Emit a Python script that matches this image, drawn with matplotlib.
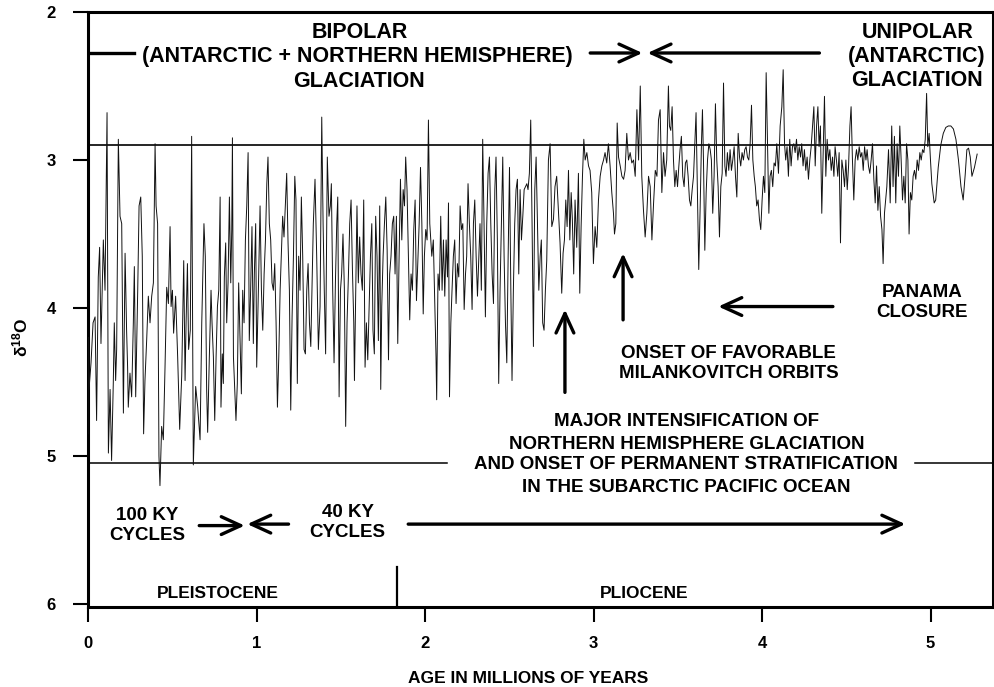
import matplotlib
matplotlib.use('Agg')
import matplotlib.pyplot as plt

plt.rcParams['font.family'] = ['Liberation Sans', 'DejaVu Sans']
plt.rcParams['font.weight'] = 'bold'
plt.rcParams['mathtext.fontset'] = 'custom'
plt.rcParams['mathtext.rm'] = 'Liberation Sans:bold'
plt.rcParams['mathtext.default'] = 'rm'

# ---------------- data (age in Ma, delta 18O) ----------------
ages_a = [0.000, 0.003, 0.006, 0.018, 0.030, 0.042, 0.051, 0.061, 0.069, 0.077, 0.091, 0.101, 0.107, 0.113,
          0.121, 0.131, 0.140, 0.150, 0.156, 0.164, 0.170, 0.180, 0.190, 0.200, 0.210, 0.220, 0.229, 0.235,
          0.239, 0.249, 0.259, 0.269, 0.275, 0.283, 0.295, 0.303, 0.313, 0.322, 0.330, 0.338, 0.348, 0.358,
          0.368, 0.378, 0.388, 0.398, 0.404, 0.413, 0.421, 0.427, 0.437, 0.447, 0.457, 0.467, 0.477, 0.487,
          0.493, 0.501, 0.508, 0.520, 0.532, 0.544, 0.556, 0.568, 0.576, 0.582, 0.590, 0.597, 0.607, 0.615,
          0.625, 0.639, 0.651, 0.665]
d18o_a = [4.85, 4.20, 4.55, 4.37, 4.10, 4.06, 4.76, 3.79, 3.59, 4.24, 3.54, 3.88, 3.27, 2.68,
          4.98, 4.55, 5.03, 4.51, 4.10, 4.49, 4.28, 2.86, 3.38, 3.43, 4.71, 3.63, 4.15, 4.40,
          4.67, 4.44, 4.60, 4.10, 3.72, 4.60, 3.88, 3.31, 3.25, 3.65, 4.85, 4.49, 4.22, 3.92,
          4.10, 3.92, 3.83, 2.89, 3.31, 3.43, 5.00, 5.20, 4.80, 4.89, 4.40, 3.86, 3.97, 3.45,
          3.99, 3.88, 4.17, 3.92, 4.33, 4.82, 4.46, 3.68, 4.49, 4.10, 3.70, 4.28, 4.15, 2.84,
          5.06, 4.53, 4.67, 4.89]

ages_b = [0.675, 0.688, 0.696, 0.704, 0.710, 0.720, 0.730, 0.736, 0.744, 0.752,
          0.760, 0.768, 0.776, 0.784, 0.789, 0.797, 0.803, 0.809, 0.817, 0.823,
          0.831, 0.839, 0.847, 0.853, 0.857, 0.863, 0.871, 0.878, 0.886, 0.894,
          0.902, 0.910, 0.918, 0.926, 0.934, 0.942, 0.950, 0.957, 0.965, 0.973,
          0.981, 0.987, 0.995, 1.001, 1.011, 1.021, 1.029, 1.037, 1.045, 1.053,
          1.061, 1.068, 1.076, 1.084, 1.092, 1.100, 1.108, 1.116, 1.124, 1.132,
          1.140, 1.147, 1.155, 1.163, 1.171, 1.179, 1.187, 1.195, 1.203, 1.211,
          1.219, 1.227, 1.234, 1.242, 1.250, 1.258, 1.266, 1.274, 1.282, 1.290,
          1.298, 1.306, 1.314, 1.322, 1.329, 1.337, 1.347]
d18o_b = [4.10, 3.43, 3.65, 4.55, 4.84, 4.33, 3.88, 4.10, 4.33, 4.76,
          4.33, 3.99, 3.88, 3.25, 4.67, 4.31, 4.51, 3.79, 3.56, 4.10,
          3.83, 3.25, 3.83, 3.47, 2.85, 4.33, 4.55, 4.76, 4.51, 3.83,
          4.22, 4.58, 3.88, 4.10, 3.54, 3.31, 2.95, 4.22, 3.88, 3.45,
          4.24, 3.77, 3.43, 4.40, 3.88, 3.31, 3.88, 4.15, 3.77, 3.54,
          3.16, 2.98, 3.43, 3.54, 3.83, 3.88, 3.70, 4.10, 4.67, 4.33,
          3.88, 3.65, 3.38, 3.52, 3.31, 3.09, 3.56, 3.88, 4.69, 4.06,
          3.65, 3.11, 3.27, 4.51, 3.65, 3.88, 3.25, 3.65, 4.28, 4.31,
          3.88, 3.70, 4.10, 4.26, 3.88, 3.43, 3.13]

ages_c = [1.357, 1.367, 1.377, 1.387, 1.395, 1.402, 1.410, 1.420, 1.430, 1.438,
          1.444, 1.452, 1.460, 1.468, 1.476, 1.482, 1.490, 1.498, 1.505, 1.513,
          1.521, 1.529, 1.537, 1.545, 1.553, 1.561, 1.569, 1.577, 1.581, 1.589,
          1.596, 1.604, 1.612, 1.620, 1.628, 1.636, 1.644, 1.652, 1.660, 1.668,
          1.676, 1.684, 1.691, 1.699, 1.707, 1.715, 1.723, 1.731, 1.737, 1.743,
          1.751, 1.759, 1.767, 1.775, 1.783, 1.790, 1.798, 1.806, 1.814, 1.822,
          1.830, 1.838, 1.846, 1.854, 1.862, 1.870, 1.878, 1.885, 1.893, 1.901,
          1.909, 1.917, 1.925, 1.933, 1.941, 1.949, 1.957, 1.965, 1.973, 1.981,
          1.989, 1.996, 2.004, 2.012, 2.020, 2.028]
d18o_c = [3.65, 4.28, 3.99, 2.71, 3.43, 3.88, 4.31, 2.98, 3.38, 3.31,
          3.16, 3.88, 4.37, 3.83, 3.43, 3.25, 4.60, 3.88, 3.77, 3.50,
          3.86, 4.80, 4.10, 3.79, 3.43, 3.27, 3.74, 4.10, 4.49, 3.88,
          3.31, 3.83, 3.52, 3.77, 3.88, 3.27, 4.40, 4.10, 4.35, 3.99,
          3.65, 3.43, 4.15, 4.31, 3.38, 3.65, 4.22, 3.31, 4.55, 3.99,
          3.65, 3.43, 3.25, 3.61, 4.35, 3.77, 3.65, 3.43, 3.38, 3.77,
          3.38, 4.24, 3.65, 3.13, 3.54, 3.20, 3.31, 2.98, 3.20, 3.65,
          4.08, 3.77, 3.88, 3.47, 3.27, 3.95, 3.70, 3.43, 3.05, 3.43,
          4.04, 3.65, 3.47, 3.54, 2.73, 3.43]

ages_d = [2.040, 2.049, 2.057, 2.065, 2.069, 2.077, 2.085, 2.093, 2.101, 2.109,
          2.117, 2.125, 2.133, 2.139, 2.145, 2.153, 2.160, 2.168, 2.176, 2.184,
          2.192, 2.200, 2.208, 2.216, 2.224, 2.232, 2.240, 2.247, 2.255, 2.263,
          2.271, 2.279, 2.287, 2.295, 2.303, 2.311, 2.319, 2.326, 2.334, 2.342,
          2.350, 2.358, 2.366, 2.374, 2.382, 2.390, 2.398, 2.406, 2.414, 2.421,
          2.429, 2.437, 2.445, 2.453, 2.461, 2.469, 2.477, 2.485, 2.493, 2.501,
          2.509, 2.516, 2.524, 2.532, 2.540, 2.548, 2.556, 2.564, 2.572, 2.580,
          2.588, 2.596, 2.604, 2.611, 2.619, 2.627, 2.635, 2.643, 2.651, 2.659,
          2.667, 2.675, 2.683, 2.690, 2.698, 2.706, 2.714]
d18o_d = [3.65, 3.54, 3.92, 4.33, 4.62, 3.77, 3.88, 3.38, 3.88, 3.54,
          3.92, 3.54, 3.79, 3.29, 4.60, 4.10, 3.88, 3.65, 3.54, 3.97,
          3.70, 3.79, 3.31, 3.47, 3.43, 4.01, 3.77, 3.65, 3.16, 3.43,
          3.65, 4.01, 3.43, 3.27, 3.65, 3.92, 3.65, 3.43, 3.88, 2.86,
          3.43, 4.06, 3.43, 3.09, 2.98, 3.43, 3.77, 3.97, 3.20, 2.98,
          3.54, 4.51, 3.88, 3.43, 2.98, 3.65, 4.10, 4.37, 3.65, 3.05,
          3.88, 4.49, 3.88, 3.43, 3.20, 3.13, 3.77, 3.20, 3.54, 3.38,
          3.20, 3.18, 3.16, 3.20, 3.09, 2.73, 3.43, 4.26, 3.20, 2.98,
          3.43, 3.88, 3.65, 3.54, 4.10, 4.15, 3.88]

ages_e = [2.722, 2.732, 2.742, 2.752, 2.762, 2.771, 2.781, 2.791, 2.801, 2.811,
          2.819, 2.827, 2.835, 2.843, 2.851, 2.859, 2.867, 2.874, 2.882, 2.890,
          2.900, 2.910, 2.918, 2.926, 2.934, 2.942, 2.950, 2.960, 2.970, 2.979,
          2.989, 2.999, 3.009, 3.019, 3.029, 3.039, 3.049, 3.059, 3.068, 3.078,
          3.088, 3.098, 3.108, 3.118, 3.124, 3.132, 3.140, 3.148, 3.158, 3.168,
          3.178, 3.187, 3.197, 3.207, 3.217, 3.227, 3.237, 3.247, 3.257, 3.267,
          3.277, 3.286, 3.296, 3.306, 3.316, 3.326, 3.336, 3.346, 3.356, 3.366,
          3.376, 3.385, 3.395]
d18o_e = [3.68, 3.00, 2.89, 3.45, 3.40, 3.18, 3.11, 3.34, 3.56, 3.90,
          3.63, 3.54, 3.27, 3.45, 3.07, 3.54, 3.22, 3.40, 3.77, 3.27,
          3.59, 3.09, 3.90, 3.45, 3.11, 2.86, 3.00, 2.95, 3.04, 3.07,
          3.22, 3.70, 3.45, 3.59, 3.27, 3.11, 3.04, 3.00, 2.95, 3.02,
          2.89, 3.04, 3.22, 3.36, 3.50, 3.43, 2.75, 2.98, 3.04, 3.11,
          3.13, 3.07, 2.82, 3.00, 2.95, 3.02, 3.00, 3.11, 2.66, 3.00,
          2.50, 3.11, 3.34, 3.52, 3.36, 3.11, 3.18, 3.54, 3.29, 3.07,
          3.11, 2.73, 2.66]

ages_f = [3.405, 3.415, 3.424, 3.434, 3.444, 3.450, 3.458, 3.466, 3.474, 3.482,
          3.490, 3.498, 3.506, 3.513, 3.521, 3.529, 3.537, 3.545, 3.553, 3.561,
          3.569, 3.577, 3.585, 3.593, 3.600, 3.608, 3.616, 3.624, 3.632, 3.640,
          3.646, 3.652, 3.660, 3.668, 3.676, 3.684, 3.692, 3.699, 3.707, 3.715,
          3.723, 3.731, 3.739, 3.747, 3.755, 3.763, 3.771, 3.779, 3.786, 3.794,
          3.802, 3.810, 3.818, 3.826, 3.834, 3.842, 3.850, 3.858, 3.866, 3.873,
          3.881, 3.889, 3.897, 3.905, 3.913, 3.921, 3.929, 3.937, 3.945, 3.953,
          3.960, 3.968, 3.976, 3.984, 3.992, 4.000, 4.008, 4.016, 4.024, 4.032,
          4.040, 4.047, 4.055, 4.063, 4.071, 4.079]
d18o_f = [3.22, 2.95, 3.11, 3.00, 2.50, 2.77, 2.80, 2.64, 3.00, 3.18,
          3.07, 3.18, 3.04, 2.93, 2.84, 3.11, 3.18, 3.02, 3.00, 3.11,
          3.27, 3.31, 3.20, 3.11, 2.91, 2.68, 3.22, 3.74, 3.34, 2.89,
          2.66, 3.00, 3.61, 3.22, 3.00, 2.89, 2.93, 3.00, 3.36, 3.11,
          2.62, 3.00, 3.18, 3.52, 3.18, 3.09, 2.48, 3.04, 3.11, 2.95,
          3.07, 2.93, 3.07, 3.00, 2.91, 3.11, 3.25, 2.82, 2.98, 3.04,
          2.95, 3.00, 2.93, 2.91, 2.98, 3.00, 2.89, 2.63, 3.00, 3.11,
          3.18, 3.31, 3.27, 3.40, 3.47, 3.27, 3.11, 3.22, 2.41, 2.89,
          3.36, 3.11, 3.07, 3.18, 3.02, 3.04]

ages_g = [4.087, 4.097, 4.107, 4.117, 4.125, 4.133, 4.140, 4.148, 4.156, 4.164,
          4.172, 4.180, 4.188, 4.196, 4.204, 4.212, 4.220, 4.228, 4.235, 4.243,
          4.251, 4.259, 4.267, 4.275, 4.283, 4.291, 4.299, 4.307, 4.315, 4.323,
          4.331, 4.338, 4.346, 4.354, 4.362, 4.370, 4.378, 4.386, 4.394, 4.402,
          4.410, 4.418, 4.426, 4.433, 4.441, 4.449, 4.457, 4.465, 4.473, 4.481,
          4.489, 4.497, 4.505, 4.513, 4.521, 4.528, 4.536, 4.544, 4.552, 4.560,
          4.568, 4.576, 4.584, 4.592, 4.600, 4.608, 4.616, 4.623, 4.631, 4.639,
          4.647, 4.655, 4.663, 4.671, 4.679, 4.687, 4.695, 4.703, 4.711, 4.718,
          4.726]
d18o_g = [2.89, 3.09, 2.77, 2.64, 2.39, 2.89, 3.00, 2.91, 3.11, 2.86,
          3.04, 2.91, 2.89, 2.95, 2.86, 3.00, 2.91, 2.98, 2.89, 3.04,
          2.93, 3.07, 2.98, 3.13, 3.00, 2.91, 2.77, 2.64, 3.04, 2.77,
          2.64, 2.91, 2.77, 3.36, 2.95, 2.57, 3.11, 2.86, 3.00, 2.93,
          3.07, 2.98, 3.11, 2.91, 3.00, 3.11, 2.95, 3.56, 3.00, 3.07,
          3.18, 3.00, 3.20, 3.04, 2.77, 2.64, 3.00, 3.27, 3.00, 2.93,
          3.00, 2.91, 2.98, 2.95, 3.07, 2.91, 3.00, 2.93, 3.04, 3.09,
          3.00, 2.89, 3.13, 3.29, 3.04, 3.34, 3.18, 3.38, 3.47, 3.70,
          3.36]

ages_h = [4.740, 4.750, 4.760, 4.769, 4.777, 4.785, 4.793, 4.801, 4.809, 4.817,
          4.825, 4.833, 4.841, 4.849, 4.857, 4.865, 4.872, 4.880, 4.888, 4.896,
          4.904, 4.912, 4.920, 4.928, 4.936, 4.944, 4.952, 4.960, 4.968, 4.976,
          4.983, 4.991, 4.999, 5.007, 5.021, 5.030, 5.045, 5.060, 5.075, 5.090,
          5.105, 5.120, 5.135, 5.150, 5.165, 5.180, 5.193, 5.205, 5.215, 5.225,
          5.235, 5.245, 5.260, 5.276]
d18o_h = [3.18, 2.93, 3.29, 2.77, 3.18, 2.84, 3.29, 2.89, 3.11, 2.77,
          3.00, 3.27, 3.11, 3.29, 2.89, 3.00, 3.50, 3.22, 3.27, 3.11,
          3.07, 3.13, 3.00, 3.07, 2.95, 3.00, 2.93, 2.95, 2.86, 2.55,
          2.91, 2.82, 3.00, 3.16, 3.29, 3.27, 3.05, 2.90, 2.82, 2.78,
          2.77, 2.77, 2.79, 2.86, 3.00, 3.18, 3.27, 3.10, 2.93, 2.92,
          2.98, 3.11, 3.05, 2.96]

x_ticks = [0, 1, 2, 3, 4, 5]
y_ticks = [2, 3, 4, 5, 6]
ref_level_top = 2.90
ref_level_bottom = 5.045
epoch_boundary = 1.834

ages = ages_a + ages_b + ages_c + ages_d + ages_e + ages_f + ages_g + ages_h
d18o = d18o_a + d18o_b + d18o_c + d18o_d + d18o_e + d18o_f + d18o_g + d18o_h

# ---------------- figure ----------------
W, H = 995, 687
fig = plt.figure(figsize=(W / 100, H / 100), dpi=100)
ax = fig.add_axes([88 / W, 80 / H, 905 / W, 595 / H])
ax.set_xlim(0, 5.37)
ax.set_ylim(6.02, 2.0)

ax.plot(ages, d18o, color='#111111', lw=0.7, zorder=3)

# reference lines
ax.axhline(ref_level_top, color='black', lw=1.2, zorder=2)
ax.plot([0, 2.13], [ref_level_bottom, ref_level_bottom], color='black', lw=1.1)
ax.plot([4.91, 5.37], [ref_level_bottom, ref_level_bottom], color='black', lw=1.1)
ax.plot([epoch_boundary, epoch_boundary], [5.75, 6.02], color='black', lw=1.6)

for s in ax.spines.values():
    s.set_linewidth(2.2)

ax.set_xticks(x_ticks)
ax.set_yticks(y_ticks)
ax.tick_params(axis='both', direction='out', length=11, width=1.5, labelsize=12)
ax.tick_params(axis='x', pad=10)
ax.tick_params(axis='y', pad=12)
for lab in ax.get_xticklabels() + ax.get_yticklabels():
    lab.set_fontweight('bold')

ax.set_xlabel('AGE IN MILLIONS OF YEARS', fontsize=12.5, fontweight='bold', labelpad=14)
ax.xaxis.label.set_x((528 - 88) / 905)
fig.text(20 / W, 1 - 337 / H, 'δ$^{18}$O', rotation=90, ha='center', va='center',
         fontsize=12.5, fontweight='bold')


def txt(x, y, s, size):
    ax.text(x, y, s, ha='center', va='baseline', fontsize=size, fontweight='bold', zorder=5)


def arrow(tail, tip, lw=2.4):
    ax.annotate('', xy=tip, xytext=tail,
                arrowprops=dict(arrowstyle='->,head_length=0.7,head_width=0.32', lw=lw,
                                color='black', shrinkA=0, shrinkB=0, mutation_scale=20))


# top block
txt(1.61, 2.176, 'BIPOLAR', 15.5)
txt(1.60, 2.338, '(ANTARCTIC + NORTHERN HEMISPHERE)', 15.5)
txt(1.61, 2.507, 'GLACIATION', 15.5)
txt(4.92, 2.176, 'UNIPOLAR', 15.5)
txt(4.92, 2.338, '(ANTARCTIC)', 15.5)
txt(4.92, 2.500, 'GLACIATION', 15.5)
ax.plot([0, 0.27], [2.277, 2.277], color='black', lw=2.4)
arrow((2.98, 2.277), (3.29, 2.277))
arrow((4.34, 2.277), (3.32, 2.277))

# Panama
txt(4.95, 3.926, 'PANAMA', 13.5)
txt(4.95, 4.06, 'CLOSURE', 13.5)
arrow((4.42, 3.99), (3.74, 3.99))

# vertical arrows
arrow((3.175, 4.08), (3.175, 3.63))
arrow((2.83, 4.57), (2.83, 4.01))

txt(3.80, 4.34, 'ONSET OF FAVORABLE', 13.5)
txt(3.80, 4.47, 'MILANKOVITCH ORBITS', 13.5)

txt(3.55, 4.80, 'MAJOR INTENSIFICATION OF', 13.5)
txt(3.55, 4.95, 'NORTHERN HEMISPHERE GLACIATION', 13.5)
txt(3.55, 5.09, 'AND ONSET OF PERMANENT STRATIFICATION', 13.5)
txt(3.55, 5.24, 'IN THE SUBARCTIC PACIFIC OCEAN', 13.5)

# cycles
txt(0.35, 5.43, '100 KY', 13.5)
txt(0.35, 5.57, 'CYCLES', 13.5)
txt(1.54, 5.41, '40 KY', 13.5)
txt(1.54, 5.55, 'CYCLES', 13.5)
arrow((0.66, 5.47), (0.93, 5.47))
arrow((1.19, 5.46), (0.945, 5.46))
arrow((1.90, 5.46), (4.85, 5.46))

txt(0.77, 5.96, 'PLEISTOCENE', 12.5)
txt(3.30, 5.96, 'PLIOCENE', 12.5)

fig.savefig('out.png', dpi=100)
